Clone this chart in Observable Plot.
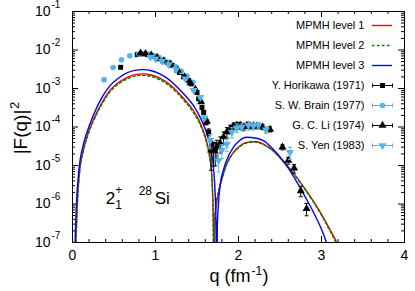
<!DOCTYPE html>
<html><head><meta charset="utf-8">
<script src="https://cdn.jsdelivr.net/npm/d3@7"></script>
<script src="https://cdn.jsdelivr.net/npm/@observablehq/plot@0.6"></script>
<style>html,body{margin:0;padding:0;background:#fff;}</style>
</head><body><div id="chart"></div>
<script>
// ---- Theory curves (MPMH levels) ----
const q1 = [0.04,0.055,0.09,0.13,0.19,0.26,0.36,0.45,0.55,0.65,0.75,0.85,0.95,1.05,1.15,1.25,1.35,1.45,1.55,1.62,1.66,1.68,1.69,1.70,1.705,1.71,1.72,1.76,1.80,1.85,1.90,2.0,2.1,2.2,2.3,2.4,2.5,2.6,2.7,2.8,2.9,3.0,3.1,3.19,3.24];
const F1 = [1e-7,7.9e-7,8.9e-6,2.5e-5,7.1e-5,1.7e-4,4.5e-4,8.9e-4,1.41e-3,1.9e-3,2.3e-3,2.4e-3,2.24e-3,1.86e-3,1.38e-3,8.9e-4,5.2e-4,2.8e-4,1.12e-4,4.0e-5,1.41e-5,5.0e-6,1.58e-6,1.6e-7,1e-9,1e-7,5.0e-7,2.0e-6,4.5e-6,1.0e-5,1.66e-5,3.0e-5,4.0e-5,4.2e-5,3.6e-5,2.6e-5,1.62e-5,9.3e-6,5.0e-6,2.5e-6,1.2e-6,5.4e-7,2.2e-7,9e-8,4e-8];

const q2 = [0.042,0.057,0.092,0.13,0.19,0.26,0.36,0.45,0.55,0.65,0.75,0.85,0.95,1.05,1.15,1.25,1.35,1.45,1.55,1.62,1.66,1.68,1.69,1.695,1.70,1.705,1.715,1.755,1.80,1.85,1.90,2.0,2.1,2.2,2.3,2.4,2.5,2.6,2.7,2.8,2.9,3.0,3.1,3.18,3.23];
const F2 = [1e-7,7.9e-7,8.9e-6,2.3e-5,6.5e-5,1.55e-4,4.1e-4,8.1e-4,1.29e-3,1.74e-3,2.1e-3,2.2e-3,2.05e-3,1.7e-3,1.26e-3,8.1e-4,4.7e-4,2.5e-4,1.0e-4,3.5e-5,1.2e-5,4.0e-6,1.1e-6,1.6e-7,1e-9,1e-7,5.0e-7,2.0e-6,4.4e-6,9.6e-6,1.6e-5,2.9e-5,3.85e-5,4.05e-5,3.5e-5,2.55e-5,1.58e-5,9.0e-6,4.8e-6,2.4e-6,1.15e-6,5.1e-7,2.05e-7,9e-8,4e-8];

const q3 = [0.03,0.045,0.08,0.12,0.18,0.25,0.35,0.45,0.55,0.65,0.75,0.85,0.95,1.05,1.15,1.25,1.35,1.45,1.55,1.62,1.67,1.70,1.72,1.73,1.735,1.745,1.76,1.78,1.82,1.86,1.94,2.0,2.1,2.2,2.3,2.4,2.5,2.6,2.7,2.8,2.9,3.0,3.06,3.12];
const F3 = [1e-7,7.9e-7,8.9e-6,2.8e-5,7.9e-5,2.0e-4,5.6e-4,1.17e-3,1.82e-3,2.5e-3,2.95e-3,3.1e-3,2.9e-3,2.4e-3,1.78e-3,1.15e-3,6.9e-4,3.8e-4,1.58e-4,6.6e-5,2.5e-5,7.9e-6,1.58e-6,2.5e-7,1e-9,2.5e-7,1.12e-6,3.2e-6,7.9e-6,1.41e-5,3.0e-5,4.2e-5,5.4e-5,5.2e-5,4.4e-5,2.9e-5,1.66e-5,8.5e-6,3.8e-6,1.58e-6,6.3e-7,2.2e-7,1e-7,4e-8];

// ---- Experimental data ----
const horikawaQ = [0.58,0.78,0.84,0.90,0.98,1.04,1.14,1.20,1.29,1.34,1.40,1.43,1.50,1.52,1.56,1.58,1.61,1.64,1.68,1.72];
const horikawaF = [3.55e-3,7.6e-3,7.9e-3,7.6e-3,6.8e-3,5.9e-3,4.8e-3,4.0e-3,2.6e-3,2.04e-3,1.62e-3,1.32e-3,7.9e-4,5.4e-4,3.2e-4,2.4e-4,1.3e-4,7.4e-5,3.6e-5,2.45e-5];
const horikawaErr = [0.05,0.05,0.05,0.05,0.05,0.05,0.05,0.05,0.06,0.06,0.06,0.07,0.08,0.08,0.1,0.1,0.12,0.2,0.4,0.6];

const brainQ = [0.38,0.49,0.59,0.69,0.80,0.86,0.92,0.98,1.04,1.10,1.17,1.24,1.31,1.38,1.45];
const brainF = [1.7e-3,3.5e-3,5.6e-3,7.1e-3,7.9e-3,8.1e-3,7.8e-3,7.2e-3,6.5e-3,5.6e-3,4.7e-3,3.7e-3,2.8e-3,2.1e-3,1.45e-3];
const brainErr = [0.05,0.05,0.05,0.05,0.05,0.05,0.05,0.05,0.05,0.05,0.05,0.05,0.05,0.05,0.05];

const liQ = [0.82,0.88,0.95,1.02,1.10,1.18,1.27,1.35,1.42,1.48,1.55,1.62,1.67,1.70,1.74,1.78,1.82,1.86,1.90,1.94,1.98,2.02,2.06,2.10,2.14,2.18,2.22,2.29,2.38,2.53,2.60,2.67,2.75,2.82];
const liF = [8.3e-3,8.0e-3,7.3e-3,6.4e-3,5.2e-3,4.3e-3,3.0e-3,2.0e-3,1.4e-3,9.5e-4,4.5e-4,1.4e-4,2.5e-5,2.4e-5,3.0e-5,3.8e-5,5.5e-5,7.4e-5,8.9e-5,1.05e-4,1.1e-4,1.1e-4,1.0e-4,1.1e-4,1.05e-4,1.08e-4,1.05e-4,1.0e-4,8.7e-5,3.0e-5,1.35e-5,8.5e-6,2.2e-6,7.6e-7];
const liErr = [0.05,0.05,0.05,0.05,0.05,0.05,0.05,0.05,0.05,0.05,0.06,0.1,0.7,0.6,0.5,0.45,0.35,0.3,0.25,0.2,0.2,0.2,0.2,0.15,0.15,0.15,0.15,0.15,0.15,0.15,0.2,0.25,0.3,0.35];

const yenQ = [0.94,1.00,1.08,1.16,1.25,1.36,1.46,1.54,1.59,1.66,1.76,1.80,1.86,1.92,1.98,2.04,2.12,2.18,2.24,2.33,2.62];
const yenF = [6.5e-3,5.9e-3,5.1e-3,4.2e-3,3.1e-3,1.78e-3,8.9e-4,5.9e-4,1.74e-4,4.5e-5,1.35e-5,2.5e-5,3.6e-5,7.4e-5,9.5e-5,1.0e-4,1.1e-4,1.05e-4,1.1e-4,8.5e-5,2.2e-5];
const yenErr = [0.05,0.05,0.05,0.05,0.05,0.06,0.07,0.08,0.12,0.4,0.5,0.4,0.35,0.3,0.25,0.2,0.25,0.2,0.2,0.2,0.35];

// ---- Ticks / labels ----
const xTickVals = [0,1,2,3,4];
const xTickLabels = ["0","1","2","3","4"];
const yTickVals = [1e-7,1e-6,1e-5,1e-4,1e-3,1e-2,1e-1];
const yTickExp = ["-7","-6","-5","-4","-3","-2","-1"];
const legendLabels = ["MPMH level 1","MPMH level 2","MPMH level 3","Y. Horikawa (1971)","S. W. Brain (1977)","G. C. Li (1974)","S. Yen (1983)"];

// ---- helpers ----
const curveTbl = (q, F) => q.map((v, i) => ({q: v, F: F[i]}));
const dataTbl = (q, F, e) => q.map((v, i) => ({q: v, F: F[i], e: e[i]}));
const W = 415, H = 291, ML = 72, MR = 11, MT = 11, MB = 49;
const innerW = W - ML - MR, innerH = H - MT - MB;
const xs = d3.scaleLinear([0, 4], [ML, W - MR]);
const ys = d3.scaleLog([1e-7, 1e-1], [H - MB, MT]);

const hcap = {draw(ctx, size) { const w = Math.sqrt(size / Math.PI); ctx.moveTo(-w, 0); ctx.lineTo(w, 0); }};
const vcap = {draw(ctx, size) { const w = Math.sqrt(size / Math.PI); ctx.moveTo(0, -w); ctx.lineTo(0, w); }};

const RED = "#ff0000", GREEN = "#008000", BLUE = "#0000ff", SKY = "#56b4e9", BLK = "#000000";

const xMinor = d3.range(0, 4.001, 0.2).filter(v => Math.abs(v - Math.round(v)) > 1e-6);
const yMinor = [];
for (let e = -7; e < -1; e++) for (let m = 2; m <= 9; m++) yMinor.push(m * Math.pow(10, e));

const datasets = [
  {t: dataTbl(horikawaQ, horikawaF, horikawaErr), color: BLK, symbol: "square", r: 2.8, rotate: 0},
  {t: dataTbl(brainQ, brainF, brainErr), color: SKY, symbol: "circle", r: 2.8, rotate: 0},
  {t: dataTbl(liQ, liF, liErr), color: BLK, symbol: "triangle", r: 3.0, rotate: 0},
  {t: dataTbl(yenQ, yenF, yenErr), color: SKY, symbol: "triangle", r: 3.0, rotate: 180}
];

const marks = [];
// frame ticks (inward, mirrored)
marks.push(Plot.tickX(xTickVals, {x: d => d, insetTop: innerH - 6, stroke: BLK}));
marks.push(Plot.tickX(xTickVals, {x: d => d, insetBottom: innerH - 6, stroke: BLK}));
marks.push(Plot.tickX(xMinor, {x: d => d, insetTop: innerH - 3, stroke: BLK}));
marks.push(Plot.tickX(xMinor, {x: d => d, insetBottom: innerH - 3, stroke: BLK}));
marks.push(Plot.tickY(yTickVals, {y: d => d, insetRight: innerW - 6, stroke: BLK}));
marks.push(Plot.tickY(yTickVals, {y: d => d, insetLeft: innerW - 6, stroke: BLK}));
marks.push(Plot.tickY(yMinor, {y: d => d, insetRight: innerW - 3, stroke: BLK}));
marks.push(Plot.tickY(yMinor, {y: d => d, insetLeft: innerW - 3, stroke: BLK}));

// curves
marks.push(Plot.line(curveTbl(q1, F1), {x: "q", y: "F", stroke: RED, strokeWidth: 1.4, curve: "monotone-x", clip: true}));
marks.push(Plot.line(curveTbl(q2, F2), {x: "q", y: "F", stroke: GREEN, strokeWidth: 1.4, strokeDasharray: "2.5,2.5", curve: "monotone-x", clip: true}));
marks.push(Plot.line(curveTbl(q3, F3), {x: "q", y: "F", stroke: BLUE, strokeWidth: 1.4, curve: "monotone-x", clip: true}));

// data with error bars
for (const ds of datasets) {
  marks.push(Plot.ruleX(ds.t, {x: "q", y1: d => d.F * (1 - d.e), y2: d => d.F * (1 + d.e), stroke: ds.color, strokeWidth: 1, clip: true}));
  marks.push(Plot.dot(ds.t, {x: "q", y: d => d.F * (1 - d.e), symbol: hcap, r: 2, fill: "none", stroke: ds.color, strokeWidth: 1, clip: true}));
  marks.push(Plot.dot(ds.t, {x: "q", y: d => d.F * (1 + d.e), symbol: hcap, r: 2, fill: "none", stroke: ds.color, strokeWidth: 1, clip: true}));
  marks.push(Plot.dot(ds.t, {x: "q", y: "F", symbol: ds.symbol, r: ds.r, fill: ds.color, stroke: "none", rotate: ds.rotate, clip: true}));
}

// legend
const rowPix = [25, 45, 65, 85, 105, 125, 145];
const lx1 = xs.invert(372), lx2 = xs.invert(392), lxm = xs.invert(382);
const lineStyles = [
  {stroke: RED}, {stroke: GREEN, strokeDasharray: "2.5,2.5"}, {stroke: BLUE}
];
legendLabels.forEach((lab, i) => {
  const yv = ys.invert(rowPix[i]);
  marks.push(Plot.text([lab], {x: 4, y: yv, dx: -40, text: d => d, textAnchor: "end", fontSize: 11, fill: BLK}));
  if (i < 3) {
    marks.push(Plot.ruleY([yv], {y: d => d, x1: lx1, x2: lx2, strokeWidth: 1.4, ...lineStyles[i]}));
  } else {
    const ds = datasets[i - 3];
    marks.push(Plot.ruleY([yv], {y: d => d, x1: lx1, x2: lx2, stroke: ds.color, strokeWidth: 1}));
    marks.push(Plot.dot([lx1, lx2], {x: d => d, y: yv, symbol: vcap, r: 2, fill: "none", stroke: ds.color, strokeWidth: 1}));
    marks.push(Plot.dot([lxm], {x: d => d, y: yv, symbol: ds.symbol, r: ds.r, fill: ds.color, stroke: "none", rotate: ds.rotate}));
  }
});

// tick labels
marks.push(Plot.text(xTickVals, {x: d => d, y: 1e-7, text: (d, i) => xTickLabels[i], dy: 17, lineAnchor: "bottom", fontSize: 14, fill: BLK}));
marks.push(Plot.text(yTickVals, {x: 0, y: d => d, text: () => "10", textAnchor: "end", dx: -22, fontSize: 14, fill: BLK}));
marks.push(Plot.text(yTickVals, {x: 0, y: d => d, text: (d, i) => yTickExp[i], textAnchor: "start", dx: -21, dy: -7, fontSize: 10, fill: BLK}));

// axis titles
marks.push(Plot.text(["q (fm"], {x: 2, y: 1e-7, text: d => d, textAnchor: "end", dx: 12, dy: 39, lineAnchor: "bottom", fontSize: 18, fill: BLK}));
marks.push(Plot.text(["-1"], {x: 2, y: 1e-7, text: d => d, textAnchor: "start", dx: 13, dy: 32, lineAnchor: "bottom", fontSize: 12, fill: BLK}));
marks.push(Plot.text([")"], {x: 2, y: 1e-7, text: d => d, textAnchor: "start", dx: 24, dy: 39, lineAnchor: "bottom", fontSize: 18, fill: BLK}));
marks.push(Plot.text(["|F(q)|"], {x: 0, y: 1e-4, text: d => d, rotate: -90, textAnchor: "middle", lineAnchor: "bottom", dx: -46, dy: 5, fontSize: 19, fill: BLK}));
marks.push(Plot.text(["2"], {x: 0, y: 1e-4, text: d => d, rotate: -90, textAnchor: "start", lineAnchor: "bottom", dx: -54, dy: -18, fontSize: 13, fill: BLK}));

// annotation 2_1^+ 28Si
marks.push(Plot.text(["2"], {x: 0.4, y: 1e-6, text: d => d, textAnchor: "start", lineAnchor: "bottom", fontSize: 17, fill: BLK}));
marks.push(Plot.text(["1"], {x: 0.4, y: 1e-6, text: d => d, textAnchor: "start", lineAnchor: "bottom", dx: 9.5, dy: 5, fontSize: 12, fill: BLK}));
marks.push(Plot.text(["+"], {x: 0.4, y: 1e-6, text: d => d, textAnchor: "start", lineAnchor: "bottom", dx: 9.5, dy: -10, fontSize: 12, fill: BLK}));
marks.push(Plot.text(["28"], {x: 0.4, y: 1e-6, text: d => d, textAnchor: "start", lineAnchor: "bottom", dx: 33, dy: -9, fontSize: 12, fill: BLK}));
marks.push(Plot.text(["Si"], {x: 0.4, y: 1e-6, text: d => d, textAnchor: "start", lineAnchor: "bottom", dx: 49, fontSize: 17, fill: BLK}));

marks.push(Plot.frame({stroke: BLK, strokeWidth: 1}));

const chart = Plot.plot({
  width: W, height: H,
  marginLeft: ML, marginRight: MR, marginTop: MT, marginBottom: MB,
  x: {domain: [0, 4], axis: null},
  y: {type: "log", domain: [1e-7, 1e-1], axis: null},
  style: {fontFamily: "'Liberation Sans', Arial, Helvetica, sans-serif", background: "#fff", overflow: "visible"},
  marks
});
document.getElementById("chart").appendChild(chart);
</script>
</body></html>
